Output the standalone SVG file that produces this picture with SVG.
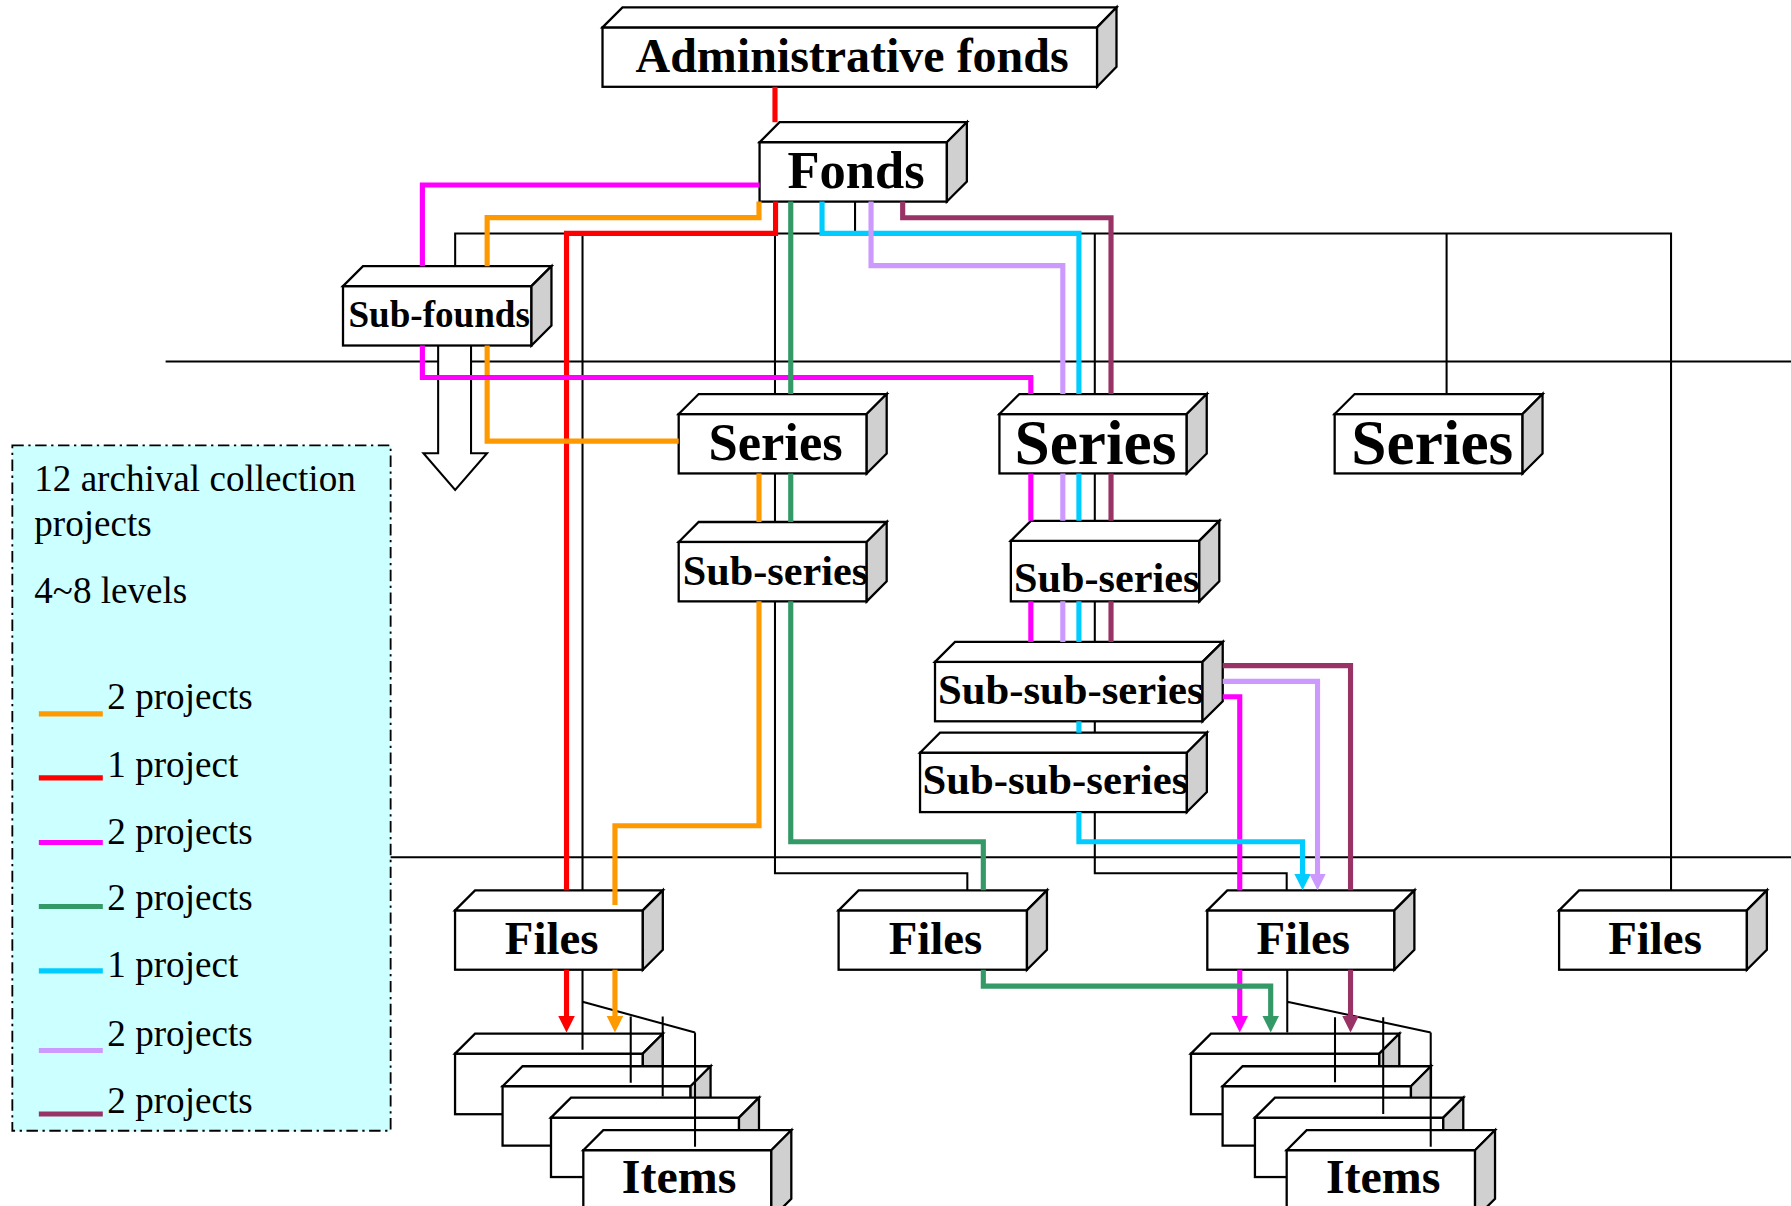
<svg xmlns="http://www.w3.org/2000/svg" width="1791" height="1206" viewBox="0 0 1791 1206">
<style>
.f{fill:#ffffff;stroke:#000;stroke-width:2;stroke-linejoin:miter}
.s{fill:#d0d0d0;stroke:#000;stroke-width:2;stroke-linejoin:miter}
.t{font-family:"Liberation Serif","Times New Roman",serif;font-weight:bold;text-anchor:middle;fill:#000}
.lg{font-family:"Liberation Serif","Times New Roman",serif;font-size:32.5px;fill:#000}
.bk{fill:none;stroke:#000;stroke-width:1.8}
.c{fill:none;stroke-width:4.5;stroke-linejoin:miter}
.or{stroke:#ff9900}.rd{stroke:#ff0000}.mg{stroke:#ff00ff}.gr{stroke:#339966}.cy{stroke:#00ccff}.li{stroke:#cc99ff}.mr{stroke:#993366}
</style>
<defs>
<marker id="aRd" markerUnits="userSpaceOnUse" markerWidth="15" markerHeight="15" refX="4.5" refY="7.25" orient="auto"><path d="M0,0 L14.5,7.25 L0,14.5 z" fill="#ff0000"/></marker>
<marker id="aOr" markerUnits="userSpaceOnUse" markerWidth="15" markerHeight="15" refX="4.5" refY="7.25" orient="auto"><path d="M0,0 L14.5,7.25 L0,14.5 z" fill="#ff9900"/></marker>
<marker id="aMg" markerUnits="userSpaceOnUse" markerWidth="15" markerHeight="15" refX="4.5" refY="7.25" orient="auto"><path d="M0,0 L14.5,7.25 L0,14.5 z" fill="#ff00ff"/></marker>
<marker id="aGr" markerUnits="userSpaceOnUse" markerWidth="15" markerHeight="15" refX="4.5" refY="7.25" orient="auto"><path d="M0,0 L14.5,7.25 L0,14.5 z" fill="#339966"/></marker>
<marker id="aCy" markerUnits="userSpaceOnUse" markerWidth="15" markerHeight="15" refX="4.5" refY="7.25" orient="auto"><path d="M0,0 L14.5,7.25 L0,14.5 z" fill="#00ccff"/></marker>
<marker id="aLi" markerUnits="userSpaceOnUse" markerWidth="15" markerHeight="15" refX="4.5" refY="7.25" orient="auto"><path d="M0,0 L14.5,7.25 L0,14.5 z" fill="#cc99ff"/></marker>
<marker id="aMr" markerUnits="userSpaceOnUse" markerWidth="15" markerHeight="15" refX="4.5" refY="7.25" orient="auto"><path d="M0,0 L14.5,7.25 L0,14.5 z" fill="#993366"/></marker>
</defs>
<rect x="0" y="0" width="1791" height="1206" fill="#ffffff"/>
<g transform="scale(1.1422)">

<g id="legend">
<rect x="10.8" y="390" width="331.2" height="600" fill="#ccffff" stroke="#000" stroke-width="1.6" stroke-dasharray="10,4,2,4"/>
<text class="lg" x="30" y="430">12 archival collection</text>
<text class="lg" x="30" y="469.5">projects</text>
<text class="lg" x="30" y="528">4~8 levels</text>
<line class="c or" x1="34" y1="625" x2="90" y2="625"/>
<line class="c rd" x1="34" y1="681" x2="90" y2="681"/>
<line class="c mg" x1="34" y1="737.6" x2="90" y2="737.6"/>
<line class="c gr" x1="34" y1="793.6" x2="90" y2="793.6"/>
<line class="c cy" x1="34" y1="850" x2="90" y2="850"/>
<line class="c li" x1="34" y1="919.7" x2="90" y2="919.7"/>
<line class="c mr" x1="34" y1="975.3" x2="90" y2="975.3"/>
<text class="lg" x="94" y="621">2 projects</text>
<text class="lg" x="94" y="680">1 project</text>
<text class="lg" x="94" y="738.5">2 projects</text>
<text class="lg" x="94" y="796.5">2 projects</text>
<text class="lg" x="94" y="855">1 project</text>
<text class="lg" x="94" y="916">2 projects</text>
<text class="lg" x="94" y="974">2 projects</text>
</g>

<g id="levels">
<line class="bk" x1="145" y1="316.5" x2="1570" y2="316.5"/>
<line class="bk" x1="342" y1="750.6" x2="1570" y2="750.6"/>
</g>

<g id="subfonds-arrow">
<path d="M383.6,302.5 V396.8 H370.7 L398.5,429 L426.4,396.8 H412.4 V302.5" fill="#ffffff" stroke="#000" stroke-width="1.8"/>
</g>

<g id="n-admin">
<rect class="f" x="527.5" y="24" width="433" height="52"/>
<polygon class="f" points="527.5,24 545,6.5 977.5,6.5 960.5,24"/>
<polygon class="s" points="960.5,24 977.5,6.5 977.5,58.5 960.5,76"/>
<text class="t" x="746" y="63" font-size="42">Administrative fonds</text>
</g>
<g id="n-fonds">
<rect class="f" x="665" y="124.5" width="164" height="52"/>
<polygon class="f" points="665,124.5 682.5,107 846.5,107 829,124.5"/>
<polygon class="s" points="829,124.5 846.5,107 846.5,159 829,176.5"/>
<text class="t" x="749.5" y="164.5" font-size="46">Fonds</text>
</g>
<g id="n-subfounds">
<rect class="f" x="300.3" y="250.5" width="165" height="52"/>
<polygon class="f" points="300.3,250.5 317.8,233 482.8,233 465.3,250.5"/>
<polygon class="s" points="465.3,250.5 482.8,233 482.8,285 465.3,302.5"/>
<text class="t" x="384.5" y="286.5" font-size="32.5">Sub-founds</text>
</g>
<g id="n-series1">
<rect class="f" x="594.2" y="362.5" width="164.6" height="52"/>
<polygon class="f" points="594.2,362.5 611.7,345 776.3,345 758.8,362.5"/>
<polygon class="s" points="758.8,362.5 776.3,345 776.3,397 758.8,414.5"/>
<text class="t" x="679" y="402.7" font-size="46">Series</text>
</g>
<g id="n-series2">
<rect class="f" x="875" y="362.5" width="164" height="52"/>
<polygon class="f" points="875,362.5 892.5,345 1056.5,345 1039,362.5"/>
<polygon class="s" points="1039,362.5 1056.5,345 1056.5,397 1039,414.5"/>
<text class="t" x="959" y="406" font-size="55.5">Series</text>
</g>
<g id="n-series3">
<rect class="f" x="1168.5" y="362.5" width="164.5" height="52"/>
<polygon class="f" points="1168.5,362.5 1186,345 1350.5,345 1333,362.5"/>
<polygon class="s" points="1333,362.5 1350.5,345 1350.5,397 1333,414.5"/>
<text class="t" x="1254" y="406" font-size="55.5">Series</text>
</g>
<g id="n-subseries1">
<rect class="f" x="594.2" y="474.5" width="164.6" height="52"/>
<polygon class="f" points="594.2,474.5 611.7,457 776.3,457 758.8,474.5"/>
<polygon class="s" points="758.8,474.5 776.3,457 776.3,509 758.8,526.5"/>
<text class="t" x="679" y="512" font-size="37">Sub-series</text>
</g>
<g id="n-subseries2">
<rect class="f" x="885" y="473.5" width="165" height="53"/>
<polygon class="f" points="885,473.5 902.5,456 1067.5,456 1050,473.5"/>
<polygon class="s" points="1050,473.5 1067.5,456 1067.5,509 1050,526.5"/>
<text class="t" x="969" y="518" font-size="37">Sub-series</text>
</g>
<g id="n-subsubseries1">
<rect class="f" x="818.6" y="579.5" width="234.2" height="52"/>
<polygon class="f" points="818.6,579.5 836.1,562 1070.5,562 1052.8,579.5"/>
<polygon class="s" points="1052.8,579.5 1070.5,562 1070.5,614 1052.8,631.5"/>
<text class="t" x="937.5" y="616.4" font-size="37.4">Sub-sub-series</text>
</g>
<g id="n-subsubseries2">
<rect class="f" x="805.5" y="659" width="233.6" height="52"/>
<polygon class="f" points="805.5,659 823,641.5 1056.6,641.5 1039.1,659"/>
<polygon class="s" points="1039.1,659 1056.6,641.5 1056.6,693.5 1039.1,711"/>
<text class="t" x="924" y="695.2" font-size="37.4">Sub-sub-series</text>
</g>
<g id="n-files1">
<rect class="f" x="398.4" y="797" width="164.4" height="52"/>
<polygon class="f" points="398.4,797 415.9,779.5 580.3,779.5 562.8,797"/>
<polygon class="s" points="562.8,797 580.3,779.5 580.3,831.5 562.8,849"/>
<text class="t" x="483" y="835.2" font-size="41">Files</text>
</g>
<g id="n-files2">
<rect class="f" x="734.2" y="797" width="164.9" height="52"/>
<polygon class="f" points="734.2,797 751.7,779.5 916.6,779.5 899.1,797"/>
<polygon class="s" points="899.1,797 916.6,779.5 916.6,831.5 899.1,849"/>
<text class="t" x="819" y="835.2" font-size="41">Files</text>
</g>
<g id="n-files3">
<rect class="f" x="1057" y="797" width="163.8" height="52"/>
<polygon class="f" points="1057,797 1074.5,779.5 1238.3,779.5 1220.8,797"/>
<polygon class="s" points="1220.8,797 1238.3,779.5 1238.3,831.5 1220.8,849"/>
<text class="t" x="1141" y="835.2" font-size="41">Files</text>
</g>
<g id="n-files4">
<rect class="f" x="1365" y="797" width="164.4" height="52"/>
<polygon class="f" points="1365,797 1382.5,779.5 1546.9,779.5 1529.4,797"/>
<polygon class="s" points="1529.4,797 1546.9,779.5 1546.9,831.5 1529.4,849"/>
<text class="t" x="1449" y="835.2" font-size="41">Files</text>
</g>

<g id="n-items-left">
<rect class="f" x="398.4" y="922.5" width="164.4" height="53"/>
<polygon class="f" points="398.4,922.5 415.9,905 580.3,905 562.8,922.5"/>
<polygon class="s" points="562.8,922.5 580.3,905 580.3,958 562.8,975.5"/>
<rect class="f" x="440" y="951" width="164.6" height="52"/>
<polygon class="f" points="440,951 457.5,933.5 622.1,933.5 604.6,951"/>
<polygon class="s" points="604.6,951 622.1,933.5 622.1,985.5 604.6,1003"/>
<rect class="f" x="482.4" y="978.5" width="164.6" height="52"/>
<polygon class="f" points="482.4,978.5 499.9,961 664.5,961 647,978.5"/>
<polygon class="s" points="647,978.5 664.5,961 664.5,1013 647,1030.5"/>
<rect class="f" x="510.7" y="1007" width="164.6" height="60"/>
<polygon class="f" points="510.7,1007 528.2,989.5 692.8,989.5 675.3,1007"/>
<polygon class="s" points="675.3,1007 692.8,989.5 692.8,1049.5 675.3,1067"/>
<text class="t" x="594.6" y="1044.6" font-size="42">Items</text>
</g>
<g id="n-items-right">
<rect class="f" x="1042.7" y="922.5" width="164.9" height="53"/>
<polygon class="f" points="1042.7,922.5 1060.2,905 1225.1,905 1207.6,922.5"/>
<polygon class="s" points="1207.6,922.5 1225.1,905 1225.1,958 1207.6,975.5"/>
<rect class="f" x="1070.4" y="951" width="164.9" height="52"/>
<polygon class="f" points="1070.4,951 1087.9,933.5 1252.8,933.5 1235.3,951"/>
<polygon class="s" points="1235.3,951 1252.8,933.5 1252.8,985.5 1235.3,1003"/>
<rect class="f" x="1098.7" y="978.5" width="164.9" height="52"/>
<polygon class="f" points="1098.7,978.5 1116.2,961 1281.1,961 1263.6,978.5"/>
<polygon class="s" points="1263.6,978.5 1281.1,961 1281.1,1013 1263.6,1030.5"/>
<rect class="f" x="1126.5" y="1007" width="164.9" height="60"/>
<polygon class="f" points="1126.5,1007 1144,989.5 1308.9,989.5 1291.4,1007"/>
<polygon class="s" points="1291.4,1007 1308.9,989.5 1308.9,1049.5 1291.4,1067"/>
<text class="t" x="1211" y="1044.6" font-size="42">Items</text>
</g>

<g id="connectors">
<path class="bk" d="M748.6,176.5 V204.5"/>
<path class="bk" d="M398.5,233 V204.5 H1463 V779.5"/>
<path class="bk" d="M510,204.5 V779.5"/>
<path class="bk" d="M678.5,204.5 V345"/>
<path class="bk" d="M958.5,204.5 V345"/>
<path class="bk" d="M1266.5,204.5 V345"/>
<path class="bk" d="M678.5,414.5 V457 M678.5,526.5 V764.6 H846.9 V779.5"/>
<path class="bk" d="M958.5,414.5 V456 M958.5,526.5 V562 M958.5,631.5 V641.5 M958.5,711 V764.6 H1126.5 V779.5"/>
<path class="bk" d="M510,849 V919 M510,877 L608.5,904 M552.2,890 V948 M580.2,890 V960 M608.5,904 V1004"/>
<path class="bk" d="M1127,849 V904 M1127,877 L1252.6,904 M1168.8,890.7 V947.6 M1211,890.7 V975.3 M1252.6,904 V1004"/>
<path class="c rd" d="M678.5,76 V107"/>
<path class="c rd" d="M679,176.5 V204.3 H496 V779.5"/>
<path class="c rd" d="M496,849 V894" marker-end="url(#aRd)"/>
<path class="c or" d="M664.5,176.5 V190.5 H426.5 V233"/>
<path class="c or" d="M426.5,302.5 V386.2 H594.2"/>
<path class="c or" d="M664.5,414.5 V457"/>
<path class="c or" d="M664.5,526.5 V722.9 H538.4 V792.3"/>
<path class="c or" d="M538.4,849 V894" marker-end="url(#aOr)"/>
<path class="c mg" d="M665,162 H369.8 V233"/>
<path class="c mg" d="M369.8,302.5 V330.5 H902.5 V345"/>
<path class="c mg" d="M902.5,414.5 V456 M902.5,526.5 V562"/>
<path class="c mg" d="M1070.5,610 H1085.4 V779.5"/>
<path class="c mg" d="M1085.4,849 V894" marker-end="url(#aMg)"/>
<path class="c gr" d="M692.3,176.5 V345 M692.3,414.5 V457"/>
<path class="c gr" d="M692.3,526.5 V737 H860.9 V779.5"/>
<path class="c gr" d="M860.9,849 V863.3 H1112.5 V894" marker-end="url(#aGr)"/>
<path class="c cy" d="M719.7,176.5 V204.3 H944.6 V345"/>
<path class="c cy" d="M944.6,414.5 V456 M944.6,526.5 V562 M944.6,631.5 V641.5"/>
<path class="c cy" d="M944.6,711 V737 H1140.4 V769.5" marker-end="url(#aCy)"/>
<path class="c li" d="M762.6,176.5 V232.6 H930.5 V345"/>
<path class="c li" d="M930.5,414.5 V456 M930.5,526.5 V562"/>
<path class="c li" d="M1070.5,596.6 H1153.5 V769.5" marker-end="url(#aLi)"/>
<path class="c mr" d="M790.3,176.5 V190.6 H972.7 V345"/>
<path class="c mr" d="M972.7,414.5 V456 M972.7,526.5 V562"/>
<path class="c mr" d="M1070.5,582.8 H1182.4 V779.5"/>
<path class="c mr" d="M1182.4,849 V894" marker-end="url(#aMr)"/>
</g>
</g>
</svg>
